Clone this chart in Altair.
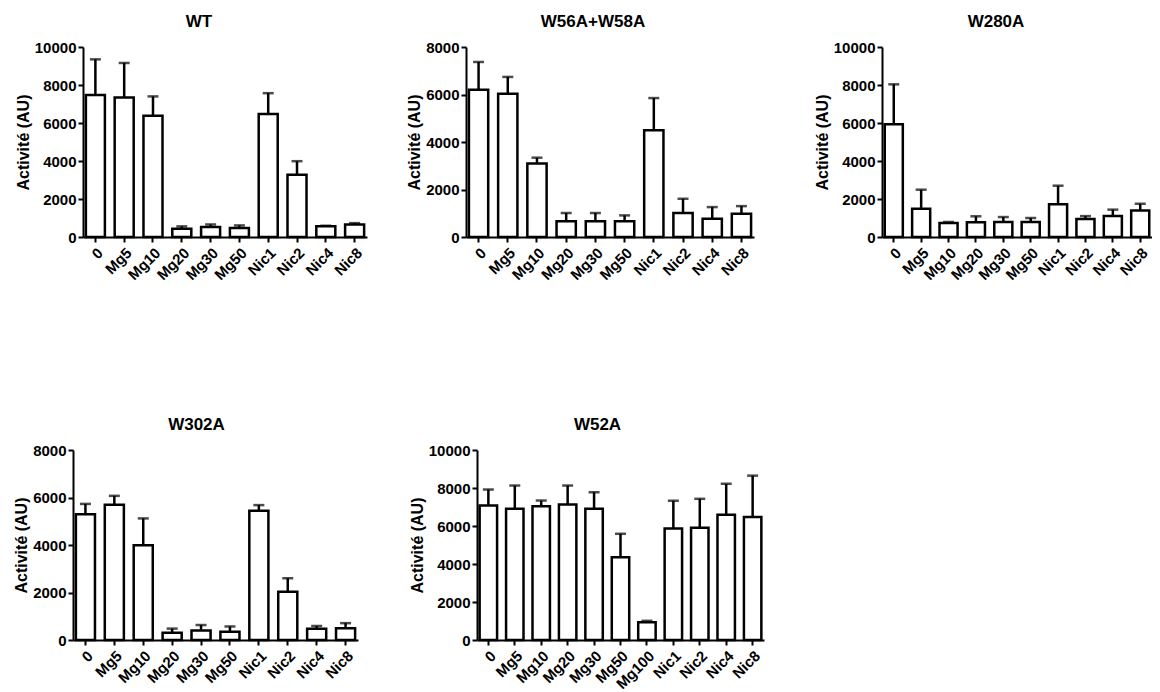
import altair as alt
import pandas as pd

categories = ["0", "Mg5", "Mg10", "Mg20", "Mg30", "Mg50", "Nic1", "Nic2", "Nic4", "Nic8"]
categories_w52a = ["0", "Mg5", "Mg10", "Mg20", "Mg30", "Mg50", "Mg100", "Nic1", "Nic2", "Nic4", "Nic8"]

wt_mean = [7480, 7340, 6380, 440, 520, 470, 6470, 3270, 560, 660]
wt_upper = [9350, 9160, 7400, 560, 660, 610, 7570, 3990, 590, 730]

w56_mean = [6200, 6030, 3090, 660, 660, 660, 4490, 1010, 770, 980]
w56_upper = [7370, 6740, 3340, 1010, 1010, 910, 5850, 1610, 1260, 1300]

w280_mean = [5930, 1490, 740, 770, 790, 790, 1720, 950, 1100, 1390]
w280_upper = [8035, 2490, 790, 1090, 1050, 1000, 2700, 1100, 1440, 1750]

w302_mean = [5300, 5690, 3990, 310, 405, 350, 5440, 2030, 475, 490]
w302_upper = [5730, 6070, 5120, 480, 630, 570, 5680, 2600, 590, 710]

w52a_mean = [7080, 6905, 7045, 7130, 6905, 4350, 940, 5870, 5910, 6590, 6470]
w52a_upper = [7920, 8130, 7340, 8130, 7780, 5590, 1010, 7330, 7430, 8220, 8650]

FONT = "Liberation Sans"
SW = 2.5


def panel(title, cats, mean, upper, ymax, width, dx, shift=0, offset=9):
    df = pd.DataFrame({"cond": cats, "mean": mean, "upper": upper})
    total = width + shift
    xscale = alt.Scale(paddingInner=0.34, paddingOuter=0.1, range=[shift, total])
    x = alt.X(
        "cond:N",
        sort=cats,
        title=None,
        scale=xscale,
        axis=alt.Axis(labelAngle=-45, labelFontSize=15, labelFontWeight="bold",
                      labelPadding=3, tickSize=5, tickWidth=2, domainWidth=2,
                      labelOverlap=False,
                      domainColor="black", tickColor="black", labelColor="black"),
    )
    yscale = alt.Scale(domain=[0, ymax], nice=False)
    yaxis_kw = dict(title="Activité (AU)", values=list(range(0, ymax + 1, 2000)),
                    tickCount=ymax // 2000 + 1, labelOverlap=False, labelFlush=False,
                    format="d", grid=False, labelFontSize=15, labelFontWeight="bold",
                    titleFontSize=16, titleFontWeight="bold", titlePadding=3,
                    labelPadding=2, tickSize=5, tickWidth=2, domainWidth=2,
                    domainColor="black", tickColor="black", labelColor="black",
                    titleColor="black")
    if shift:
        yaxis_kw["offset"] = -shift
    y = alt.Y("mean:Q", scale=yscale, axis=alt.Axis(**yaxis_kw))
    base = alt.Chart(df)
    bars = base.mark_bar(fill="white", stroke="black", strokeWidth=SW).encode(x=x, y=y)
    rule = base.mark_rule(color="black", strokeWidth=SW).encode(
        x=alt.X("cond:N", sort=cats), y=alt.Y("mean:Q", scale=yscale), y2="upper:Q")
    cap = base.mark_tick(color="black", orient="horizontal", size=11, thickness=SW).encode(
        x=alt.X("cond:N", sort=cats), y=alt.Y("upper:Q", scale=yscale))
    return alt.layer(bars, rule, cap).properties(
        width=total, height=190,
        title=alt.TitleParams(title, fontSize=17, fontWeight="bold", anchor="middle",
                              frame="group", dx=dx + shift / 2, offset=offset, color="black"),
    )


p1 = panel("WT", categories, wt_mean, wt_upper, 10000, 284, -26, shift=10)
p2 = panel("W56A+W58A", categories, w56_mean, w56_upper, 8000, 288, -17)
p3 = panel("W280A", categories, w280_mean, w280_upper, 10000, 270, -21)
p4 = panel("W302A", categories, w302_mean, w302_upper, 8000, 285, -19)
p5 = panel("W52A", categories_w52a, w52a_mean, w52a_upper, 10000, 287, -23, shift=11)

col1 = alt.vconcat(p1, p4, spacing=133)
col2 = alt.vconcat(p2, p5, spacing=133)

chart = alt.hconcat(alt.hconcat(col1, col2, spacing=39), p3, spacing=50).properties(
    padding={"left": 5, "top": 5, "right": 0, "bottom": 0}
).configure(font=FONT).configure_view(stroke=None)

chart.save("out.html", embed_options={"renderer": "svg", "actions": False})
